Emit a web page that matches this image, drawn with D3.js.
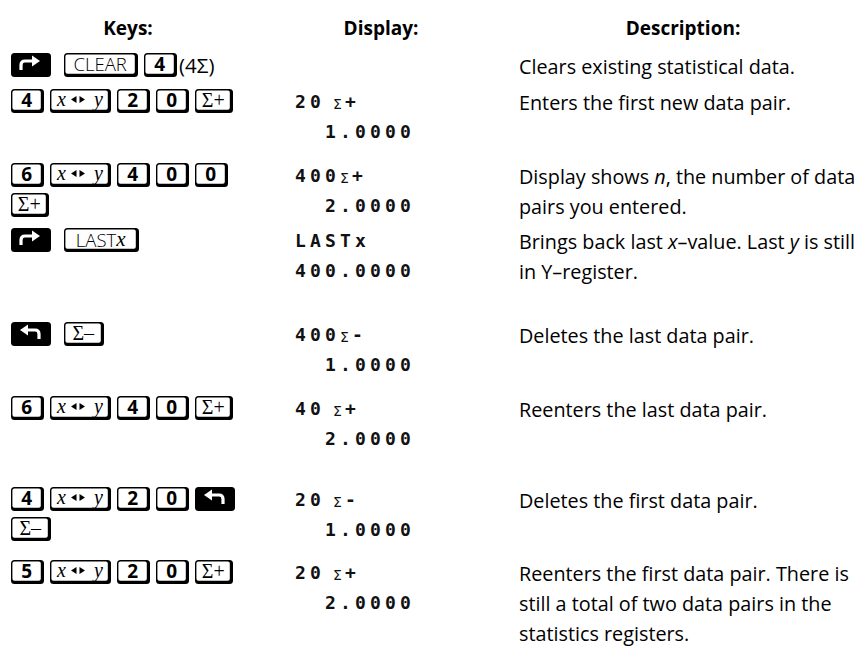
<!DOCTYPE html>
<html><head><meta charset="utf-8">
<script src="https://cdn.jsdelivr.net/npm/d3@7/dist/d3.min.js"></script>
<style>html,body{margin:0;padding:0;background:#fff;}svg{display:block;}</style>
</head><body>
<svg id="c" width="862" height="660"></svg>
<script>
// ---- data ----
const headers = ["Keys:", "Display:", "Description:"];
// key tokens per row (each row may have several key lines)
const keyRows = [
  [["RS", "CLEAR", "4", "txt:(4Σ)"]],
  [["4", "XY", "2", "0", "S+"]],
  [["6", "XY", "4", "0", "0"], ["S+"]],
  [["RS", "LASTX"]],
  [["LS", "S-"]],
  [["6", "XY", "4", "0", "S+"]],
  [["4", "XY", "2", "0", "LS"], ["S-"]],
  [["5", "XY", "2", "0", "S+"]]
];
const displayTop = ["", "20 Σ+", "400 Σ+", "LASTx", "400 Σ-", "40 Σ+", "20 Σ-", "20 Σ+"];
const displayBottom = ["", "1.0000", "2.0000", "400.0000", "1.0000", "2.0000", "1.0000", "2.0000"];
const descriptions = [
  ["Clears existing statistical data."],
  ["Enters the first new data pair."],
  ["Display shows *n*, the number of data", "pairs you entered."],
  ["Brings back last *x*–value. Last *y* is still", "in Y–register."],
  ["Deletes the last data pair."],
  ["Reenters the last data pair."],
  ["Deletes the first data pair."],
  ["Reenters the first data pair. There is", "still a total of two data pairs in the", "statistics registers."]
];

// ---- layout ----
const W = 862, H = 660;
const rowTop = [65, 101, 175, 240, 334, 408, 499, 572];
const lineH = 30;
const colX = d3.scaleOrdinal().domain(headers).range([128, 381, 683]);
const keyX0 = 11, dispX = 295, dispEnd = 415, descX = 519;
const sansFont = "'Open Sans', 'Noto Sans', sans-serif";
const monoFont = "'DejaVu Sans Mono', monospace";
const serifFont = "'Liberation Serif', 'DejaVu Serif', serif";

const svg = d3.select("#c");
svg.append("rect").attr("width", W).attr("height", H).attr("fill", "#fff");

// headers
svg.selectAll("text.hdr").data(headers).join("text")
  .attr("class", "hdr")
  .attr("x", d => colX(d)).attr("y", 28)
  .attr("text-anchor", "middle").attr("dominant-baseline", "central")
  .attr("font-family", sansFont).attr("font-weight", 700).attr("font-size", 19)
  .attr("fill", "#000").text(d => d);

// ---- keys ----
const keyW = { digit: 33, XY: 61, "S+": 38, "S-": 40, RS: 40, LS: 40, CLEAR: 74, LASTX: 75 };
function kType(t) { return /^\d$/.test(t) ? "digit" : t; }
function drawKey(g, tok, x, cy) {
  if (tok.startsWith("txt:")) {
    g.append("text").attr("x", x - 4).attr("y", cy).attr("dominant-baseline", "central")
      .attr("font-family", sansFont).attr("font-size", 20.5).attr("fill", "#000").text(tok.slice(4));
    return 50;
  }
  const type = kType(tok);
  const w = keyW[type], h = 24, y0 = cy - 12;
  g.append("rect").attr("x", x).attr("y", y0).attr("width", w).attr("height", h)
    .attr("rx", 3.5).attr("fill", "#000");
  if (type === "RS" || type === "LS") {
    const cx = x + w / 2 - 1, c = cy - 1;
    const s = type === "RS" ? 1 : -1;
    g.append("path")
      .attr("d", `M${cx - s * 9},${c + 6} L${cx - s * 9},${c + 1} Q${cx - s * 9},${c - 3} ${cx - s * 5},${c - 3} L${cx + s * 3},${c - 3}`)
      .attr("fill", "none").attr("stroke", "#fff").attr("stroke-width", 3.2);
    g.append("path")
      .attr("d", `M${cx + s * 2},${c - 8.5} L${cx + s * 10},${c - 3} L${cx + s * 2},${c + 2.5} Z`)
      .attr("fill", "#fff");
    return w;
  }
  g.append("rect").attr("x", x + 1.4).attr("y", y0 + 1.4).attr("width", w - 4.6).attr("height", h - 4.6)
    .attr("rx", 2).attr("fill", "#fff");
  const tx = x + (w - 3) / 2 + 0.7, ty = cy - 1.4;
  if (type === "digit") {
    g.append("text").attr("x", tx).attr("y", ty).attr("text-anchor", "middle")
      .attr("dominant-baseline", "central").attr("fill", "#000")
      .attr("font-family", sansFont).attr("font-weight", 700).attr("font-size", 19).text(tok);
  } else if (type === "XY") {
    g.append("text").attr("x", x + 7).attr("y", ty - 1).attr("dominant-baseline", "central")
      .attr("font-family", serifFont).attr("font-style", "italic").attr("font-size", 20).text("x");
    g.append("text").attr("x", x + 44).attr("y", ty - 1).attr("dominant-baseline", "central")
      .attr("font-family", serifFont).attr("font-style", "italic").attr("font-size", 20).text("y");
    const ax = x + 28, ay = ty;
    g.append("path").attr("d", `M${ax - 7},${ay} L${ax - 1.5},${ay - 3.5} L${ax - 1.5},${ay + 3.5} Z`).attr("fill", "#000");
    g.append("path").attr("d", `M${ax + 7},${ay} L${ax + 1.5},${ay - 3.5} L${ax + 1.5},${ay + 3.5} Z`).attr("fill", "#000");
  } else if (type === "S+" || type === "S-") {
    g.append("text").attr("x", tx).attr("y", ty).attr("text-anchor", "middle")
      .attr("dominant-baseline", "central").attr("fill", "#000")
      .attr("font-family", serifFont).attr("font-size", 20)
      .text(type === "S+" ? "Σ+" : "Σ–");
  } else if (type === "CLEAR") {
    g.append("text").attr("x", tx).attr("y", ty).attr("text-anchor", "middle")
      .attr("dominant-baseline", "central").attr("fill", "#000")
      .attr("font-family", sansFont).attr("font-weight", 300).attr("font-size", 18.5).text("CLEAR");
  } else if (type === "LASTX") {
    const t = g.append("text").attr("x", tx).attr("y", ty).attr("text-anchor", "middle")
      .attr("dominant-baseline", "central").attr("fill", "#000")
      .attr("font-family", sansFont).attr("font-weight", 300).attr("font-size", 18.5);
    t.append("tspan").text("LAST");
    t.append("tspan").attr("font-family", serifFont).attr("font-style", "italic").attr("font-size", 21).text("x");
  }
  return w;
}

const gKeys = svg.append("g");
keyRows.forEach((lines, r) => {
  lines.forEach((toks, li) => {
    let x = keyX0;
    const cy = rowTop[r] + li * lineH;
    toks.forEach(tok => {
      const w = drawKey(gKeys, tok, x, cy);
      x += w + ((tok === "RS" || tok === "LS") ? 13 : 6);
    });
  });
});

// ---- display ----
const gDisp = svg.append("g").attr("fill", "#111");
function lcdText(g, str, x, y, anchor) {
  // one glyph per 15px cell, like the calculator's dot-matrix display
  const pitch = 15;
  const chars = Array.from(str);
  const x0 = anchor === "end" ? x - chars.length * pitch : x;
  g.append("text").attr("y", y).attr("dominant-baseline", "central")
    .attr("font-family", monoFont).attr("font-weight", 700).attr("font-size", 18)
    .attr("x", chars.map((c, i) => x0 + i * pitch).join(" "))
    .text(str);
}
displayTop.forEach((d, r) => {
  if (!d) return;
  const cy = rowTop[r];
  const parts = d.split(" ");
  lcdText(gDisp, parts[0], dispX, cy, "start");
  if (parts[1]) {
    const ox = parts[0].length < 3 ? 333 : 340;
    gDisp.append("text").attr("x", ox).attr("y", cy + 3).attr("dominant-baseline", "central")
      .attr("font-family", "'DejaVu Sans', sans-serif").attr("font-size", 14).text(parts[1][0]);
    gDisp.append("text").attr("x", ox + 12).attr("y", cy).attr("dominant-baseline", "central")
      .attr("font-family", monoFont).attr("font-weight", 700).attr("font-size", 18).text(parts[1].slice(1));
  }
});
displayBottom.forEach((d, r) => {
  if (!d) return;
  lcdText(gDisp, d, dispEnd, rowTop[r] + lineH, "end");
});

// ---- descriptions ----
const gDesc = svg.append("g");
descriptions.forEach((lines, r) => {
  lines.forEach((line, li) => {
    const t = gDesc.append("text").attr("x", descX).attr("y", rowTop[r] + li * lineH + 1)
      .attr("dominant-baseline", "central").attr("font-family", sansFont)
      .attr("font-size", 19.8).attr("fill", "#000");
    line.split("*").forEach((seg, i) => {
      if (!seg) return;
      const ts = t.append("tspan").text(seg);
      if (i % 2 === 1) ts.attr("font-style", "italic");
    });
  });
});
</script>
</body></html>
